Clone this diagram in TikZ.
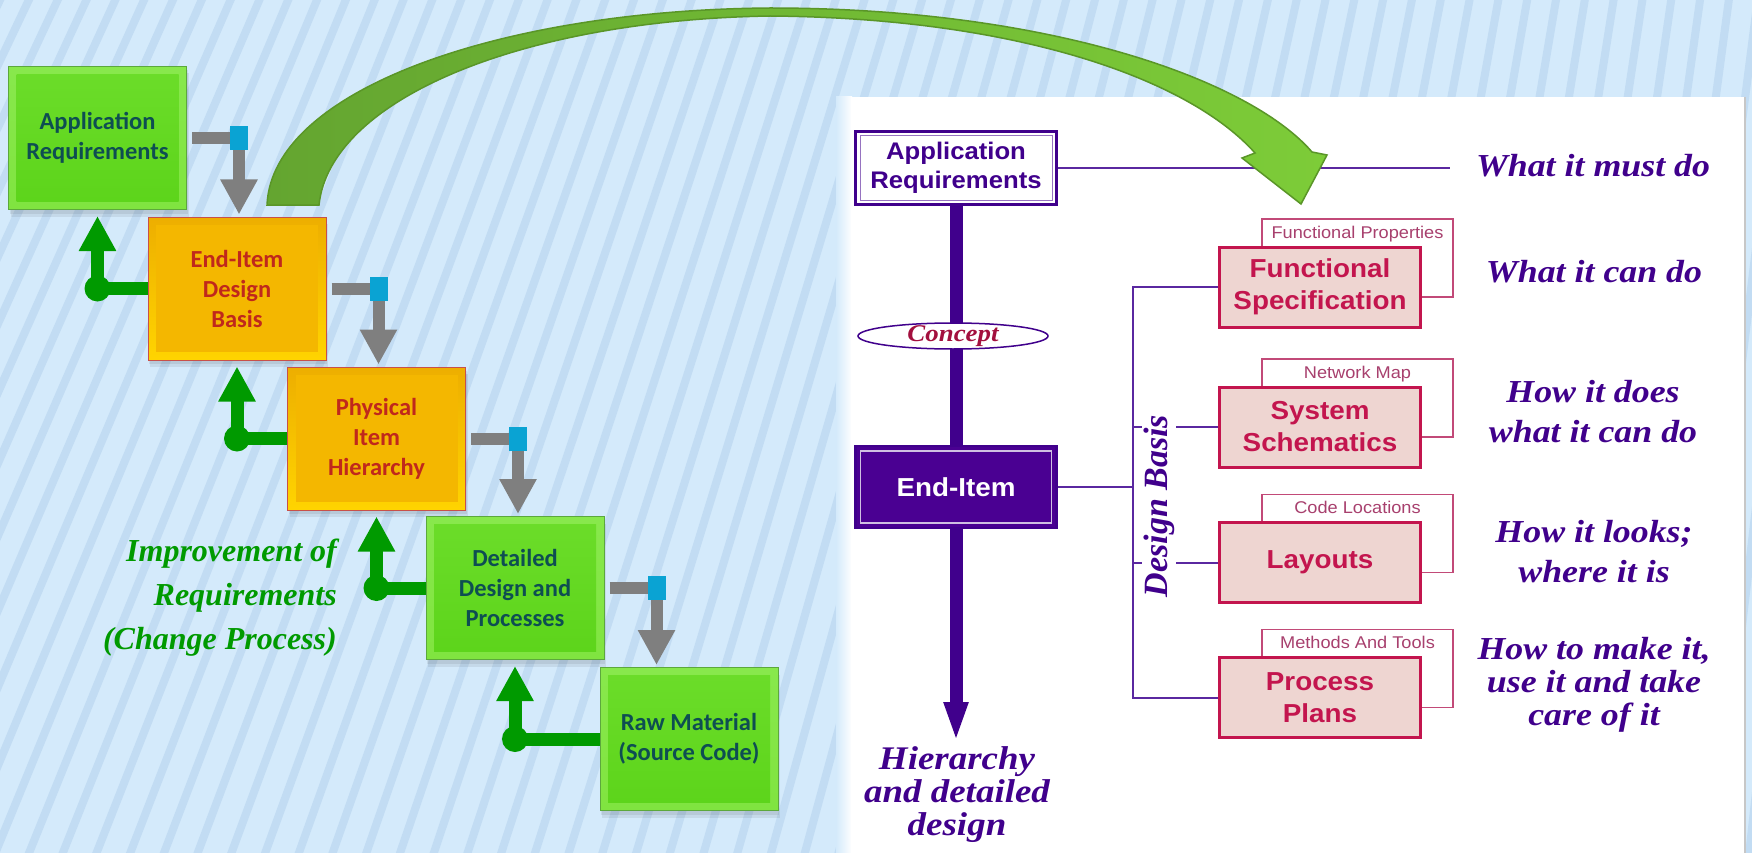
\documentclass[tikz,border=0pt]{standalone}
\usepackage{fontspec}
\setmainfont{Liberation Serif}
\newfontfamily\boxfont{Carlito}
\newfontfamily\rsans[FakeStretch=1.07]{Liberation Sans}
\newfontfamily\rser[FakeStretch=1.12]{Liberation Serif}
\usetikzlibrary{arrows.meta,shapes.geometric}
\definecolor{bgblue}{HTML}{D4EAFB}
\definecolor{stripecol}{HTML}{C2DCF3}
\definecolor{gfrT}{HTML}{88E84C}
\definecolor{gfrB}{HTML}{80E440}
\definecolor{ginT}{HTML}{6CDD2A}
\definecolor{ginB}{HTML}{5CD41A}
\definecolor{gborder}{HTML}{5CA83C}
\definecolor{gtext}{HTML}{0E4E52}
\definecolor{ofrT}{HTML}{EDAE00}
\definecolor{ofrB}{HTML}{FFD400}
\definecolor{oin}{HTML}{F4B700}
\definecolor{oborder}{HTML}{C8504A}
\definecolor{otext}{HTML}{C0281C}
\definecolor{conngray}{HTML}{7F7F7F}
\definecolor{bluesq}{HTML}{0AA3D3}
\definecolor{fbgreen}{HTML}{009A00}
\definecolor{indigo}{HTML}{40008C}
\definecolor{endfill}{HTML}{4A0092}
\definecolor{crimson}{HTML}{C3154E}
\definecolor{pinkfill}{HTML}{EED5D1}
\definecolor{tabborder}{HTML}{C24A78}
\definecolor{tabtext}{HTML}{A8406E}
\definecolor{conceptred}{HTML}{A3103E}
\definecolor{pline}{HTML}{5A28A0}
\definecolor{arcL}{HTML}{64A530}
\definecolor{arcR}{HTML}{7DCC38}
\definecolor{arcB}{HTML}{5A9628}
\tikzset{
 stripe/.style={draw=stripecol, line width=8pt},
 lbox/.style={rectangle, minimum width=178pt, minimum height=143pt, inner sep=0pt, align=center,
   font=\boxfont\bfseries\fontsize{24.5}{30}\selectfont, line width=1pt,
   preaction={fill=black, opacity=0.07, transform canvas={xshift=2pt,yshift=-7pt}},
   preaction={fill=black, opacity=0.07, transform canvas={xshift=1pt,yshift=-4pt}}},
 gbox/.style={lbox, draw=gborder, top color=gfrT, bottom color=gfrB, text=gtext,
   path picture={\shade[top color=ginT, bottom color=ginB] ([shift={(8pt,-8pt)}]path picture bounding box.north west) rectangle ([shift={(-8pt,8pt)}]path picture bounding box.south east);}},
 obox/.style={lbox, draw=oborder, top color=ofrT, bottom color=ofrB, text=otext,
   path picture={\fill[oin] ([shift={(8pt,-8pt)}]path picture bounding box.north west) rectangle ([shift={(-8pt,8pt)}]path picture bounding box.south east);}},
 gconn/.style={draw=conngray, line width=12pt, -{Triangle[width=35pt,length=35pt]}, shorten >=2pt},
 bsq/.style={rectangle, fill=bluesq, minimum width=18pt, minimum height=24pt, inner sep=0pt},
 gfb/.style={draw=fbgreen, line width=13pt, -{Triangle[width=35pt,length=35pt]}, shorten >=6pt},
 imptext/.style={font=\rmfamily\bfseries\itshape\fontsize{32}{44}\selectfont, text=fbgreen, align=right, inner sep=0pt},
 rbox/.style={rectangle, minimum width=201pt, inner sep=0pt, align=center, line width=2.5pt, draw=indigo,
   font=\rsans\bfseries\fontsize{24}{29}\selectfont},
 rboxa/.style={rbox, minimum height=73pt, fill=white, text=indigo,
   path picture={\draw[indigo!55, line width=1pt] ([shift={(4.5pt,-4.5pt)}]path picture bounding box.north west) rectangle ([shift={(-4.5pt,4.5pt)}]path picture bounding box.south east);}},
 rboxb/.style={rbox, minimum height=82pt, fill=endfill, text=white, font=\rsans\bfseries\fontsize{26}{30}\selectfont,
   path picture={\draw[white!75!indigo, line width=1.2pt] ([shift={(5pt,-5pt)}]path picture bounding box.north west) rectangle ([shift={(-5pt,5pt)}]path picture bounding box.south east);}},
 concept/.style={ellipse, minimum width=190pt, minimum height=26pt, inner sep=0pt, text height=14pt, text depth=3pt,
   draw=indigo, line width=1.5pt, fill=white, text=conceptred, font=\rser\bfseries\itshape\fontsize{24}{24}\selectfont},
 mainbox/.style={rectangle, minimum width=201pt, minimum height=80pt, inner sep=0pt, draw=crimson, line width=3pt,
   fill=pinkfill, text=crimson, align=center, font=\rsans\bfseries\fontsize{26}{32}\selectfont},
 tabbox/.style={rectangle, minimum width=191pt, minimum height=78pt, inner sep=0pt, draw=tabborder, line width=1.3pt, fill=white},
 tablabel/.style={anchor=base, inner sep=0pt, text=tabtext, font=\rsans\fontsize{17}{17}\selectfont},
 rtext/.style={inner sep=0pt, align=center, text=indigo, font=\rser\bfseries\itshape\fontsize{32}{#1}\selectfont},
 rtext/.default=40,
 pl/.style={draw=pline, line width=2pt},
 thick bar/.style={draw=indigo, line width=13pt},
}
\begin{document}
\begin{tikzpicture}[x=1pt,y=-1pt]
\useasboundingbox (0,0) rectangle (1752,853);
% background
\fill[bgblue] (0,0) rectangle (1752,853);
\begin{scope}
\clip (0,0) rectangle (1752,853);
\foreach \xb in {-500,-466,...,1900} {\draw[stripe] (2400,-5000) -- (\xb,900);}
\end{scope}

% right panel
\shade[left color=bgblue, right color=white] (836,97) rectangle (852,853);
\fill[white] (851,97) rectangle (1745,853);
\draw[black!22, line width=2pt] (1745,97) -- (1745,853);

\node[rboxa] (r1) at (956,168) {Application\\Requirements};
\node[rboxb] (r2) at (956,487) {End-Item};
\draw[thick bar] (r1.south) -- (r2.north);
\node[concept] (cpt) at (953,336) {Concept};
\coordinate (hd) at (956,742);
\draw[thick bar, -{Triangle[width=22pt,length=40pt]}] (r2.south) -- (hd);
\node[rtext=33, font=\rser\bfseries\itshape\fontsize{33}{33}\selectfont] (hier) at (957,795) {Hierarchy\\and detailed\\design};

% design basis boxes
\node[tabbox] (tb1) at (1357.5,258) {};
\node[tabbox] (tb2) at (1357.5,398) {};
\node[tabbox] (tb3) at (1357.5,533.5) {};
\node[tabbox] (tb4) at (1357.5,668.5) {};
\node[tablabel] (tl1) at ([yshift=-20pt]tb1.north) {Functional Properties};
\node[tablabel] (tl2) at ([yshift=-20pt]tb2.north) {Network Map};
\node[tablabel] (tl3) at ([yshift=-20pt]tb3.north) {Code Locations};
\node[tablabel] (tl4) at ([yshift=-20pt]tb4.north) {Methods And Tools};
\node[mainbox] (f1) at (1320,287) {Functional\\Specification};
\node[mainbox] (f2) at (1320,427) {System\\Schematics};
\node[mainbox] (f3) at (1320,562.5) {Layouts};
\node[mainbox] (f4) at (1320,697.5) {Process\\Plans};

\coordinate (bkt) at (1133,0);
\draw[pl] (f1.west) -- (f1.west -| bkt) -- (f4.west -| bkt) -- (f4.west);
\draw[pl] (r2.east) -- (r2.east -| bkt);
\draw[pl] (f2.west -| bkt) -- ++(9,0);
\draw[pl] (f2.west) -- ++(-42,0);
\draw[pl] (f3.west -| bkt) -- ++(9,0);
\draw[pl] (f3.west) -- ++(-42,0);
\node[rotate=90, inner sep=0pt, text=indigo, font=\rmfamily\bfseries\itshape\fontsize{34}{34}\selectfont] (db) at (1159,506) {Design Basis};

\node[rtext] (t1) at (1593,166) {What it must do};
\node[rtext] (t2) at (1594,272) {What it can do};
\node[rtext] (t3) at (1593,412) {How it does\\what it can do};
\node[rtext] (t4) at (1594,552) {How it looks;\\where it is};
\node[rtext=33] (t5) at (1594,685) {How to make it,\\use it and take\\care of it};
\coordinate (l1end) at (1450,168);
\draw[pl] (r1.east) -- (l1end);

% left staircase
\node[gbox] (b1) at (97.5,138) {Application\\Requirements};
\node[obox] (b2) at (237,288.5) {End-Item\\Design\\Basis};
\node[obox] (b3) at (376.5,438.5) {Physical\\Item\\Hierarchy};
\node[gbox] (b4) at (515,588) {Detailed\\Design and\\Processes};
\node[gbox] (b5) at (689,739) {Raw Material\\(Source Code)};

\coordinate (k1) at ([xshift=52pt]b1.east);
\coordinate (k2) at ([xshift=52pt]b2.east);
\coordinate (k3) at ([xshift=52pt]b3.east);
\coordinate (k4) at ([xshift=52pt]b4.east);
\draw[gconn] ([xshift=5pt]b1.east) -| (k1 |- b2.north);
\draw[gconn] ([xshift=5pt]b2.east) -| (k2 |- b3.north);
\draw[gconn] ([xshift=5pt]b3.east) -| (k3 |- b4.north);
\draw[gconn] ([xshift=5pt]b4.east) -| (k4 |- b5.north);
\node[bsq] (s1) at (k1) {};
\node[bsq] (s2) at (k2) {};
\node[bsq] (s3) at (k3) {};
\node[bsq] (s4) at (k4) {};

\draw[gfb] (b2.west) -| (b1.south);
\draw[gfb] (b3.west) -| (b2.south);
\draw[gfb] (b4.west) -| (b3.south);
\draw[gfb] (b5.west) -| (b4.south);
\fill[fbgreen] (b1.south |- b2.west) circle (13pt);
\fill[fbgreen] (b2.south |- b3.west) circle (13pt);
\fill[fbgreen] (b3.south |- b4.west) circle (13pt);
\fill[fbgreen] (b4.south |- b5.west) circle (13pt);

\node[imptext, anchor=east] (imp) at (337,598) {Improvement of\\Requirements\\(Change Process)};

% big curved arrow
\filldraw[draw=arcB, line width=1.5pt, left color=arcL, middle color=arcL, right color=arcR]
  (267,205) .. controls (272,90) and (500,10) .. (770,8)
  .. controls (1050,8) and (1250,80) .. (1312,152)
  -- (1327,155) -- (1301,204) -- (1242,158) -- (1255,153)
  .. controls (1190,80) and (1020,18) .. (770,16)
  .. controls (520,20) and (330,100) .. (319,205) -- cycle;
\end{tikzpicture}
\end{document}
